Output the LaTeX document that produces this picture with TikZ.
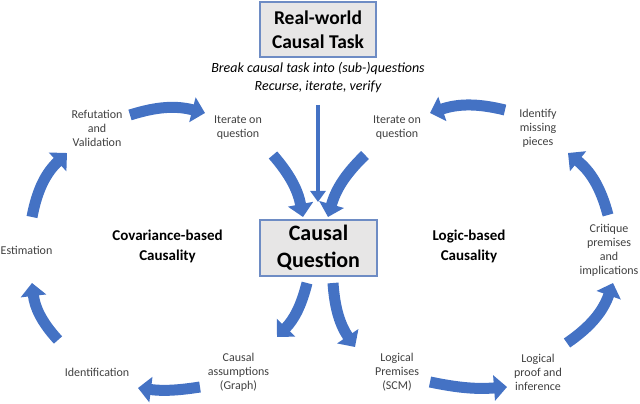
\documentclass[tikz,border=0pt]{standalone}
\usepackage{fontspec}
\setmainfont{Carlito}
\usetikzlibrary{arrows.meta}
\definecolor{arrowblue}{HTML}{4472C4}
\definecolor{boxfill}{HTML}{E7E6E6}
\definecolor{boxline}{HTML}{6E8CC4}
\definecolor{labelgray}{HTML}{404040}
\begin{document}
\begin{tikzpicture}[x=1pt,y=1pt,
  lbl/.style={align=center,text=labelgray,font=\fontsize{12}{14}\selectfont,inner sep=0pt},
  topic/.style={align=center,font=\fontsize{15}{20}\selectfont\bfseries,inner sep=0pt},
  mainbox/.style={draw=boxline,line width=1.5pt,fill=boxfill,align=center,inner sep=0pt},
  cyclearrow/.style={draw=arrowblue,line width=11pt,-{Triangle[width=25pt,length=13pt]}},
  downarrow/.style={draw=arrowblue,line width=4pt,-{Triangle[width=15pt,length=11pt]}}]
\useasboundingbox (0,0) rectangle (640,404);
% boxes
\node[mainbox,minimum width=116pt,minimum height=55pt,font=\fontsize{19.5}{24}\selectfont\bfseries] (task) at (318,374.5) {Real-world\\Causal Task};
\node[mainbox,minimum width=117pt,minimum height=56pt,font=\fontsize{22}{27}\selectfont\bfseries] (cq) at (318.5,156) {Causal\\Question};
% italic text
\node[align=center,inner sep=0pt,font=\fontsize{14}{18}\selectfont\itshape] (brk) at (318,326) {Break causal task into (sub-)questions\\Recurse, iterate, verify};
% labels
\node[lbl] (refut) at (97,276) {Refutation\\and\\Validation};
\node[lbl] (iterl) at (238,276) {Iterate on\\question};
\node[lbl] (iterr) at (397,276) {Iterate on\\question};
\node[lbl] (ident) at (538,276) {Identify\\missing\\pieces};
\node[lbl] (estim) at (26.5,154) {Estimation};
\node[lbl] (critq) at (609,154) {Critique\\premises\\and\\implications};
\node[lbl] (identif) at (97,32) {Identification};
\node[lbl] (assum) at (238.5,32) {Causal\\assumptions\\(Graph)};
\node[lbl] (prem) at (397,32) {Logical\\Premises\\(SCM)};
\node[lbl] (proof) at (538,32) {Logical\\proof and\\inference};
\node[topic] (cov) at (167.5,158) {Covariance-based\\Causality};
\node[topic] (logic) at (469,158) {Logic-based\\Causality};
% arrow end points
\coordinate (a1s) at (130,289); \coordinate (a1e) at (205,291);
\coordinate (a2s) at (505,294); \coordinate (a2e) at (430,291);
\coordinate (a3s) at (32,187);  \coordinate (a3e) at (67,251);
\coordinate (a4s) at (58,64);   \coordinate (a4e) at (32,121);
\coordinate (a5s) at (200,17);  \coordinate (a5e) at (138,16);
\coordinate (a6s) at (430,22);  \coordinate (a6e) at (507,17);
\coordinate (a7s) at (567,61);  \coordinate (a7e) at (613,121);
\coordinate (a8s) at (608,189); \coordinate (a8e) at (568,251);
\coordinate (a9s) at (273,249); \coordinate (a9e) at (303,187);
\coordinate (a10s) at (365,249); \coordinate (a10e) at (328,187);
\coordinate (a11s) at (307,121); \coordinate (a11e) at (277,67);
\coordinate (a12s) at (333,121); \coordinate (a12e) at (355,57);
% arrows
\draw[downarrow] (brk.south |- 0,299) -- (brk.south |- 0,202);
\draw[cyclearrow] (a1s) to[bend left=16] (a1e);
\draw[cyclearrow] (a2s) to[bend right=16] (a2e);
\draw[cyclearrow] (a3s) to[bend left=18] (a3e);
\draw[cyclearrow] (a4s) to[bend left=18] (a4e);
\draw[cyclearrow] (a5s) to[bend left=8] (a5e);
\draw[cyclearrow] (a6s) to[bend right=8] (a6e);
\draw[cyclearrow] (a7s) to[bend right=18] (a7e);
\draw[cyclearrow] (a8s) to[bend right=18] (a8e);
\draw[cyclearrow] (a9s) to[bend left=15] (a9e);
\draw[cyclearrow] (a10s) to[bend right=15] (a10e);
\draw[cyclearrow] (a11s) to[bend left=15] (a11e);
\draw[cyclearrow] (a12s) to[bend right=15] (a12e);
\end{tikzpicture}
\end{document}
